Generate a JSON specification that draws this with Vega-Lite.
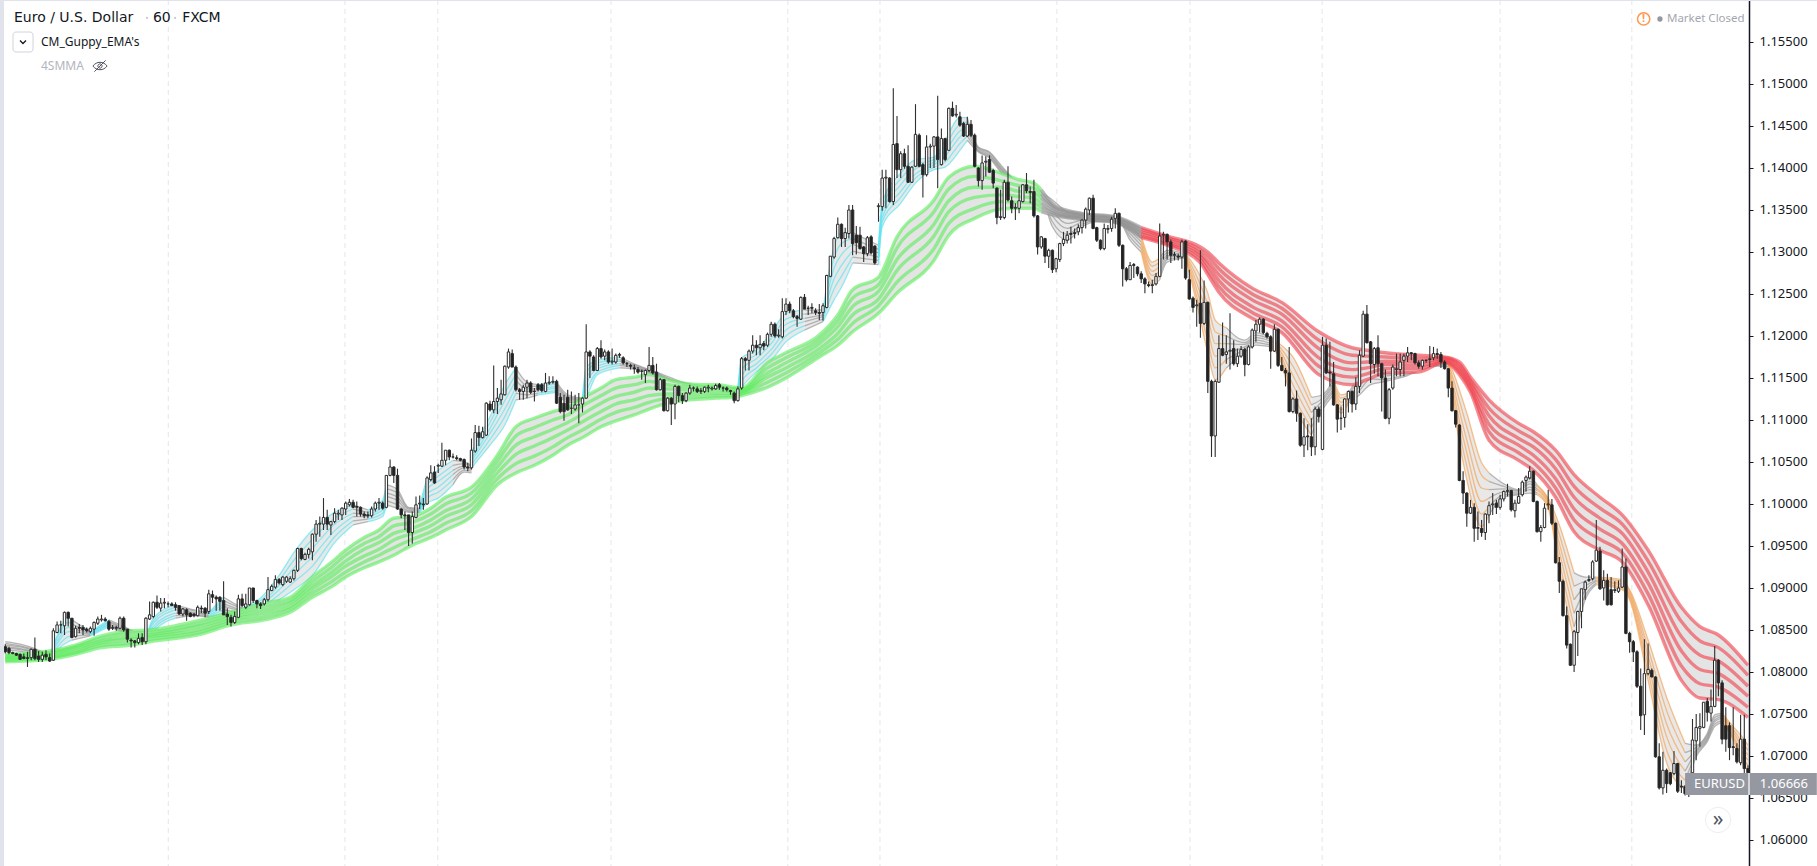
{"$schema":"https://vega.github.io/schema/vega-lite/v6.json","width":1749,"height":866,"autosize":"none","padding":{"left":0,"top":0,"right":68,"bottom":0},"background":"#ffffff","config":{"view":{"stroke":null}},
"datasets":{
"days":[{"t":45.05},{"t":92.8},{"t":117.9},{"t":164.7},{"t":212.5},{"t":237.4},{"t":285.2},{"t":321.2},{"t":356.9},{"t":405},{"t":440.6}],
"long":[
{"t":1,"s":1,"ph":"green","a":1.0821,"b":1.0819,"c":1.0817,"d":1.0816,"e":1.0814,"f":1.0812},
{"t":13,"s":1,"ph":"green","a":1.0825,"b":1.0823,"c":1.0821,"d":1.0819,"e":1.0817,"f":1.0815},
{"t":20,"s":1,"ph":"green","a":1.0832,"b":1.0830,"c":1.0828,"d":1.0825,"e":1.0823,"f":1.0821},
{"t":27,"s":1,"ph":"green","a":1.0843,"b":1.0840,"c":1.0837,"d":1.0835,"e":1.0832,"f":1.0829},
{"t":35,"s":1,"ph":"green","a":1.0849,"b":1.0846,"c":1.0842,"d":1.0839,"e":1.0835,"f":1.0832},
{"t":40,"s":1,"ph":"green","a":1.0850,"b":1.0847,"c":1.0844,"d":1.0842,"e":1.0839,"f":1.0836},
{"t":54,"s":1,"ph":"green","a":1.0862,"b":1.0858,"c":1.0855,"d":1.0851,"e":1.0848,"f":1.0845},
{"t":62,"s":1,"ph":"green","a":1.0871,"b":1.0868,"c":1.0865,"d":1.0862,"e":1.0859,"f":1.0856},
{"t":71,"s":1,"ph":"green","a":1.0882,"b":1.0878,"c":1.0874,"d":1.0870,"e":1.0866,"f":1.0862},
{"t":78,"s":1,"ph":"green","a":1.0889,"b":1.0885,"c":1.0882,"d":1.0878,"e":1.0875,"f":1.0871},
{"t":84,"s":1,"ph":"green","a":1.0913,"b":1.0908,"c":1.0903,"d":1.0899,"e":1.0894,"f":1.0889},
{"t":89,"s":1,"ph":"green","a":1.0930,"b":1.0924,"c":1.0918,"d":1.0913,"e":1.0907,"f":1.0901},
{"t":93,"s":1,"ph":"green","a":1.0945,"b":1.0939,"c":1.0932,"d":1.0926,"e":1.0919,"f":1.0913},
{"t":98,"s":1,"ph":"green","a":1.0960,"b":1.0953,"c":1.0946,"d":1.0938,"e":1.0931,"f":1.0924},
{"t":102,"s":1,"ph":"green","a":1.0969,"b":1.0961,"c":1.0954,"d":1.0946,"e":1.0939,"f":1.0931},
{"t":106,"s":1,"ph":"green","a":1.0983,"b":1.0974,"c":1.0965,"d":1.0957,"e":1.0948,"f":1.0939},
{"t":111,"s":1,"ph":"green","a":1.0985,"b":1.0978,"c":1.0971,"d":1.0965,"e":1.0958,"f":1.0951},
{"t":116,"s":1,"ph":"green","a":1.0995,"b":1.0988,"c":1.0981,"d":1.0974,"e":1.0967,"f":1.0960},
{"t":120,"s":1,"ph":"green","a":1.1008,"b":1.1000,"c":1.0992,"d":1.0985,"e":1.0977,"f":1.0969},
{"t":127,"s":1,"ph":"green","a":1.1020,"b":1.1013,"c":1.1006,"d":1.0999,"e":1.0992,"f":1.0985},
{"t":134,"s":1,"ph":"green","a":1.1058,"b":1.1051,"c":1.1044,"d":1.1037,"e":1.1030,"f":1.1023},
{"t":139,"s":1,"ph":"green","a":1.1092,"b":1.1081,"c":1.1070,"d":1.1059,"e":1.1048,"f":1.1037},
{"t":144,"s":1,"ph":"green","a":1.1102,"b":1.1091,"c":1.1080,"d":1.1069,"e":1.1057,"f":1.1046},
{"t":149,"s":1,"ph":"green","a":1.1110,"b":1.1100,"c":1.1089,"d":1.1079,"e":1.1068,"f":1.1058},
{"t":153,"s":1,"ph":"green","a":1.1115,"b":1.1106,"c":1.1097,"d":1.1088,"e":1.1079,"f":1.1070},
{"t":157,"s":1,"ph":"green","a":1.1126,"b":1.1117,"c":1.1107,"d":1.1098,"e":1.1088,"f":1.1079},
{"t":162,"s":1,"ph":"green","a":1.1138,"b":1.1129,"c":1.1120,"d":1.1110,"e":1.1101,"f":1.1092},
{"t":166,"s":1,"ph":"green","a":1.1148,"b":1.1138,"c":1.1128,"d":1.1119,"e":1.1109,"f":1.1099},
{"t":171,"s":1,"ph":"green","a":1.1151,"b":1.1142,"c":1.1133,"d":1.1124,"e":1.1115,"f":1.1106},
{"t":175,"s":1,"ph":"green","a":1.1154,"b":1.1146,"c":1.1138,"d":1.1129,"e":1.1121,"f":1.1113},
{"t":180,"s":1,"ph":"green","a":1.1148,"b":1.1142,"c":1.1137,"d":1.1131,"e":1.1126,"f":1.1120},
{"t":184,"s":1,"ph":"green","a":1.1144,"b":1.1140,"c":1.1136,"d":1.1131,"e":1.1127,"f":1.1123},
{"t":189,"s":1,"ph":"green","a":1.1142,"b":1.1139,"c":1.1135,"d":1.1132,"e":1.1128,"f":1.1125},
{"t":193,"s":1,"ph":"green","a":1.1142,"b":1.1139,"c":1.1136,"d":1.1132,"e":1.1129,"f":1.1126},
{"t":198,"s":1,"ph":"green","a":1.1139,"b":1.1137,"c":1.1134,"d":1.1132,"e":1.1129,"f":1.1127},
{"t":200,"s":1,"ph":"green","a":1.1138,"b":1.1136,"c":1.1134,"d":1.1133,"e":1.1131,"f":1.1129},
{"t":207,"s":1,"ph":"green","a":1.1168,"b":1.1162,"c":1.1156,"d":1.1151,"e":1.1145,"f":1.1139},
{"t":212,"s":1,"ph":"green","a":1.1180,"b":1.1174,"c":1.1168,"d":1.1162,"e":1.1156,"f":1.1150},
{"t":221,"s":1,"ph":"green","a":1.1201,"b":1.1196,"c":1.1191,"d":1.1185,"e":1.1180,"f":1.1175},
{"t":226,"s":1,"ph":"green","a":1.1225,"b":1.1218,"c":1.1211,"d":1.1203,"e":1.1196,"f":1.1189},
{"t":230,"s":1,"ph":"green","a":1.1255,"b":1.1245,"c":1.1235,"d":1.1225,"e":1.1215,"f":1.1205},
{"t":237,"s":1,"ph":"green","a":1.1270,"b":1.1261,"c":1.1253,"d":1.1244,"e":1.1236,"f":1.1227},
{"t":242,"s":1,"ph":"green","a":1.1318,"b":1.1305,"c":1.1291,"d":1.1278,"e":1.1264,"f":1.1251},
{"t":252,"s":1,"ph":"green","a":1.1362,"b":1.1348,"c":1.1333,"d":1.1319,"e":1.1304,"f":1.1290},
{"t":256,"s":1,"ph":"green","a":1.1389,"b":1.1375,"c":1.1361,"d":1.1348,"e":1.1334,"f":1.1320},
{"t":263,"s":1,"ph":"green","a":1.1402,"b":1.1390,"c":1.1377,"d":1.1365,"e":1.1352,"f":1.1340},
{"t":270,"s":1,"ph":"green","a":1.1394,"b":1.1385,"c":1.1377,"d":1.1368,"e":1.1360,"f":1.1351},
{"t":275,"s":1,"ph":"green","a":1.1386,"b":1.1379,"c":1.1372,"d":1.1366,"e":1.1359,"f":1.1352},
{"t":279,"s":1,"ph":"green","a":1.1382,"b":1.1376,"c":1.1370,"d":1.1364,"e":1.1358,"f":1.1352},
{"t":281,"s":1,"ph":"green","a":1.1374,"b":1.1369,"c":1.1364,"d":1.1358,"e":1.1353,"f":1.1348},
{"t":281,"s":2,"ph":"gray","a":1.1374,"b":1.1369,"c":1.1364,"d":1.1358,"e":1.1353,"f":1.1348},
{"t":285,"s":2,"ph":"gray","a":1.1354,"b":1.1352,"c":1.1350,"d":1.1347,"e":1.1345,"f":1.1343},
{"t":292,"s":2,"ph":"gray","a":1.1346,"b":1.1345,"c":1.1343,"d":1.1342,"e":1.1340,"f":1.1339},
{"t":301,"s":2,"ph":"gray","a":1.1342,"b":1.1341,"c":1.1339,"d":1.1338,"e":1.1336,"f":1.1335},
{"t":308,"s":2,"ph":"gray","a":1.1329,"b":1.1327,"c":1.1324,"d":1.1322,"e":1.1319,"f":1.1317},
{"t":308,"s":3,"ph":"red","a":1.1329,"b":1.1327,"c":1.1324,"d":1.1322,"e":1.1319,"f":1.1317},
{"t":315,"s":3,"ph":"red","a":1.1319,"b":1.1317,"c":1.1315,"d":1.1312,"e":1.1310,"f":1.1308},
{"t":324,"s":3,"ph":"red","a":1.1306,"b":1.1302,"c":1.1298,"d":1.1295,"e":1.1291,"f":1.1287},
{"t":326,"s":3,"ph":"red","a":1.1300,"b":1.1295,"c":1.1289,"d":1.1284,"e":1.1278,"f":1.1273},
{"t":329,"s":3,"ph":"red","a":1.1287,"b":1.1280,"c":1.1273,"d":1.1266,"e":1.1259,"f":1.1252},
{"t":338,"s":3,"ph":"red","a":1.1257,"b":1.1250,"c":1.1243,"d":1.1235,"e":1.1228,"f":1.1221},
{"t":346,"s":3,"ph":"red","a":1.1240,"b":1.1233,"c":1.1226,"d":1.1218,"e":1.1211,"f":1.1204},
{"t":356,"s":3,"ph":"red","a":1.1205,"b":1.1195,"c":1.1185,"d":1.1174,"e":1.1164,"f":1.1154},
{"t":365,"s":3,"ph":"red","a":1.1186,"b":1.1177,"c":1.1168,"d":1.1160,"e":1.1151,"f":1.1142},
{"t":369,"s":3,"ph":"red","a":1.1183,"b":1.1176,"c":1.1169,"d":1.1162,"e":1.1155,"f":1.1148},
{"t":374,"s":3,"ph":"red","a":1.1180,"b":1.1175,"c":1.1170,"d":1.1166,"e":1.1161,"f":1.1156},
{"t":383,"s":3,"ph":"red","a":1.1177,"b":1.1173,"c":1.1169,"d":1.1165,"e":1.1161,"f":1.1157},
{"t":390,"s":3,"ph":"red","a":1.1175,"b":1.1174,"c":1.1173,"d":1.1171,"e":1.1170,"f":1.1169},
{"t":394,"s":3,"ph":"red","a":1.1169,"b":1.1166,"c":1.1163,"d":1.1160,"e":1.1157,"f":1.1154},
{"t":397,"s":3,"ph":"red","a":1.1151,"b":1.1147,"c":1.1144,"d":1.1140,"e":1.1137,"f":1.1133},
{"t":402,"s":3,"ph":"red","a":1.1124,"b":1.1114,"c":1.1105,"d":1.1095,"e":1.1086,"f":1.1076},
{"t":410,"s":3,"ph":"red","a":1.1096,"b":1.1087,"c":1.1078,"d":1.1070,"e":1.1061,"f":1.1052},
{"t":414,"s":3,"ph":"red","a":1.1086,"b":1.1077,"c":1.1068,"d":1.1058,"e":1.1049,"f":1.1040},
{"t":420,"s":3,"ph":"red","a":1.1064,"b":1.1053,"c":1.1042,"d":1.1030,"e":1.1019,"f":1.1008},
{"t":425,"s":3,"ph":"red","a":1.1035,"b":1.1021,"c":1.1008,"d":1.0994,"e":1.0981,"f":1.0967},
{"t":432,"s":3,"ph":"red","a":1.1008,"b":1.0995,"c":1.0983,"d":1.0970,"e":1.0958,"f":1.0945},
{"t":438,"s":3,"ph":"red","a":1.0987,"b":1.0976,"c":1.0965,"d":1.0953,"e":1.0942,"f":1.0931},
{"t":445,"s":3,"ph":"red","a":1.0945,"b":1.0932,"c":1.0919,"d":1.0906,"e":1.0893,"f":1.0880},
{"t":454,"s":3,"ph":"red","a":1.0877,"b":1.0860,"c":1.0842,"d":1.0825,"e":1.0807,"f":1.0790},
{"t":459,"s":3,"ph":"red","a":1.0854,"b":1.0837,"c":1.0820,"d":1.0803,"e":1.0786,"f":1.0769},
{"t":464,"s":3,"ph":"red","a":1.0844,"b":1.0829,"c":1.0813,"d":1.0798,"e":1.0782,"f":1.0767},
{"t":472,"s":3,"ph":"red","a":1.0808,"b":1.0796,"c":1.0783,"d":1.0771,"e":1.0758,"f":1.0746}
],
"short":[
{"t":1,"s":1,"ph":"gray","a":1.0836,"b":1.0834,"c":1.0832,"d":1.0830,"e":1.0828,"f":1.0826},
{"t":6,"s":1,"ph":"gray","a":1.0832,"b":1.0830,"c":1.0829,"d":1.0827,"e":1.0826,"f":1.0824},
{"t":11,"s":1,"ph":"gray","a":1.0824,"b":1.0823,"c":1.0822,"d":1.0822,"e":1.0821,"f":1.0820},
{"t":13,"s":1,"ph":"gray","a":1.0819,"b":1.0818,"c":1.0817,"d":1.0816,"e":1.0815,"f":1.0814},
{"t":13,"s":2,"ph":"cyan","a":1.0819,"b":1.0818,"c":1.0817,"d":1.0816,"e":1.0815,"f":1.0814},
{"t":15,"s":2,"ph":"cyan","a":1.0843,"b":1.0840,"c":1.0836,"d":1.0833,"e":1.0829,"f":1.0826},
{"t":18,"s":2,"ph":"cyan","a":1.0865,"b":1.0859,"c":1.0853,"d":1.0848,"e":1.0842,"f":1.0836},
{"t":19,"s":2,"ph":"cyan","a":1.0862,"b":1.0857,"c":1.0852,"d":1.0848,"e":1.0843,"f":1.0838},
{"t":19,"s":3,"ph":"gray","a":1.0862,"b":1.0857,"c":1.0852,"d":1.0848,"e":1.0843,"f":1.0838},
{"t":24,"s":3,"ph":"gray","a":1.0848,"b":1.0847,"c":1.0846,"d":1.0845,"e":1.0844,"f":1.0843},
{"t":24,"s":4,"ph":"cyan","a":1.0848,"b":1.0847,"c":1.0846,"d":1.0845,"e":1.0844,"f":1.0843},
{"t":29,"s":4,"ph":"cyan","a":1.0862,"b":1.0860,"c":1.0859,"d":1.0857,"e":1.0856,"f":1.0854},
{"t":29,"s":5,"ph":"gray","a":1.0862,"b":1.0860,"c":1.0859,"d":1.0857,"e":1.0856,"f":1.0854},
{"t":34,"s":5,"ph":"gray","a":1.0852,"b":1.0851,"c":1.0849,"d":1.0848,"e":1.0846,"f":1.0845},
{"t":39,"s":5,"ph":"gray","a":1.0840,"b":1.0839,"c":1.0838,"d":1.0838,"e":1.0837,"f":1.0836},
{"t":39,"s":6,"ph":"cyan","a":1.0840,"b":1.0839,"c":1.0838,"d":1.0838,"e":1.0837,"f":1.0836},
{"t":41,"s":6,"ph":"cyan","a":1.0864,"b":1.0861,"c":1.0858,"d":1.0854,"e":1.0851,"f":1.0848},
{"t":47,"s":6,"ph":"cyan","a":1.0880,"b":1.0877,"c":1.0874,"d":1.0870,"e":1.0867,"f":1.0864},
{"t":47,"s":7,"ph":"gray","a":1.0880,"b":1.0877,"c":1.0874,"d":1.0870,"e":1.0867,"f":1.0864},
{"t":52,"s":7,"ph":"gray","a":1.0874,"b":1.0873,"c":1.0871,"d":1.0870,"e":1.0868,"f":1.0867},
{"t":56,"s":7,"ph":"gray","a":1.0871,"b":1.0870,"c":1.0869,"d":1.0867,"e":1.0866,"f":1.0865},
{"t":56,"s":8,"ph":"cyan","a":1.0871,"b":1.0870,"c":1.0869,"d":1.0867,"e":1.0866,"f":1.0865},
{"t":60,"s":8,"ph":"cyan","a":1.0889,"b":1.0885,"c":1.0881,"d":1.0878,"e":1.0874,"f":1.0870},
{"t":60,"s":9,"ph":"gray","a":1.0889,"b":1.0885,"c":1.0881,"d":1.0878,"e":1.0874,"f":1.0870},
{"t":65,"s":9,"ph":"gray","a":1.0876,"b":1.0875,"c":1.0873,"d":1.0872,"e":1.0870,"f":1.0869},
{"t":65,"s":10,"ph":"cyan","a":1.0876,"b":1.0875,"c":1.0873,"d":1.0872,"e":1.0870,"f":1.0869},
{"t":70,"s":10,"ph":"cyan","a":1.0888,"b":1.0885,"c":1.0882,"d":1.0880,"e":1.0877,"f":1.0874},
{"t":75,"s":10,"ph":"cyan","a":1.0915,"b":1.0909,"c":1.0903,"d":1.0898,"e":1.0892,"f":1.0886},
{"t":79,"s":10,"ph":"cyan","a":1.0942,"b":1.0933,"c":1.0924,"d":1.0916,"e":1.0907,"f":1.0898},
{"t":84,"s":10,"ph":"cyan","a":1.0969,"b":1.0958,"c":1.0947,"d":1.0937,"e":1.0926,"f":1.0915},
{"t":90,"s":10,"ph":"cyan","a":1.0990,"b":1.0983,"c":1.0976,"d":1.0968,"e":1.0961,"f":1.0954},
{"t":95,"s":10,"ph":"cyan","a":1.0999,"b":1.0994,"c":1.0989,"d":1.0985,"e":1.0980,"f":1.0975},
{"t":95,"s":11,"ph":"gray","a":1.0999,"b":1.0994,"c":1.0989,"d":1.0985,"e":1.0980,"f":1.0975},
{"t":99,"s":11,"ph":"gray","a":1.0993,"b":1.0990,"c":1.0987,"d":1.0985,"e":1.0982,"f":1.0979},
{"t":99,"s":12,"ph":"cyan","a":1.0993,"b":1.0990,"c":1.0987,"d":1.0985,"e":1.0982,"f":1.0979},
{"t":103,"s":12,"ph":"cyan","a":1.1005,"b":1.1001,"c":1.0997,"d":1.0993,"e":1.0989,"f":1.0985},
{"t":104,"s":12,"ph":"cyan","a":1.1023,"b":1.1018,"c":1.1013,"d":1.1009,"e":1.1004,"f":1.0999},
{"t":104,"s":13,"ph":"gray","a":1.1023,"b":1.1018,"c":1.1013,"d":1.1009,"e":1.1004,"f":1.0999},
{"t":107,"s":13,"ph":"gray","a":1.1017,"b":1.1013,"c":1.1008,"d":1.1004,"e":1.0999,"f":1.0995},
{"t":110,"s":13,"ph":"gray","a":1.0996,"b":1.0995,"c":1.0994,"d":1.0992,"e":1.0991,"f":1.0990},
{"t":113,"s":13,"ph":"gray","a":1.0995,"b":1.0994,"c":1.0993,"d":1.0992,"e":1.0991,"f":1.0990},
{"t":113,"s":14,"ph":"cyan","a":1.0995,"b":1.0994,"c":1.0993,"d":1.0992,"e":1.0991,"f":1.0990},
{"t":115,"s":14,"ph":"cyan","a":1.1029,"b":1.1023,"c":1.1018,"d":1.1012,"e":1.1007,"f":1.1001},
{"t":118,"s":14,"ph":"cyan","a":1.1040,"b":1.1033,"c":1.1027,"d":1.1020,"e":1.1014,"f":1.1007},
{"t":122,"s":14,"ph":"cyan","a":1.1052,"b":1.1046,"c":1.1040,"d":1.1035,"e":1.1029,"f":1.1023},
{"t":122,"s":15,"ph":"gray","a":1.1052,"b":1.1046,"c":1.1040,"d":1.1035,"e":1.1029,"f":1.1023},
{"t":125,"s":15,"ph":"gray","a":1.1050,"b":1.1048,"c":1.1045,"d":1.1043,"e":1.1040,"f":1.1038},
{"t":127,"s":15,"ph":"gray","a":1.1046,"b":1.1044,"c":1.1042,"d":1.1041,"e":1.1039,"f":1.1037},
{"t":127,"s":16,"ph":"cyan","a":1.1062,"b":1.1058,"c":1.1054,"d":1.1051,"e":1.1047,"f":1.1043},
{"t":132,"s":16,"ph":"cyan","a":1.1104,"b":1.1097,"c":1.1090,"d":1.1084,"e":1.1077,"f":1.1070},
{"t":136,"s":16,"ph":"cyan","a":1.1142,"b":1.1132,"c":1.1123,"d":1.1113,"e":1.1104,"f":1.1094},
{"t":139,"s":16,"ph":"cyan","a":1.1162,"b":1.1154,"c":1.1147,"d":1.1139,"e":1.1132,"f":1.1124},
{"t":139,"s":17,"ph":"gray","a":1.1162,"b":1.1154,"c":1.1147,"d":1.1139,"e":1.1132,"f":1.1124},
{"t":142,"s":17,"ph":"gray","a":1.1145,"b":1.1141,"c":1.1137,"d":1.1134,"e":1.1130,"f":1.1126},
{"t":145,"s":17,"ph":"gray","a":1.1142,"b":1.1140,"c":1.1137,"d":1.1135,"e":1.1132,"f":1.1130},
{"t":145,"s":18,"ph":"cyan","a":1.1142,"b":1.1140,"c":1.1137,"d":1.1135,"e":1.1132,"f":1.1130},
{"t":150,"s":18,"ph":"cyan","a":1.1145,"b":1.1143,"c":1.1140,"d":1.1138,"e":1.1135,"f":1.1133},
{"t":150,"s":19,"ph":"gray","a":1.1145,"b":1.1143,"c":1.1140,"d":1.1138,"e":1.1135,"f":1.1133},
{"t":153,"s":19,"ph":"gray","a":1.1130,"b":1.1128,"c":1.1127,"d":1.1125,"e":1.1123,"f":1.1121},
{"t":157,"s":19,"ph":"gray","a":1.1126,"b":1.1125,"c":1.1124,"d":1.1123,"e":1.1122,"f":1.1121},
{"t":157,"s":20,"ph":"cyan","a":1.1126,"b":1.1125,"c":1.1124,"d":1.1123,"e":1.1122,"f":1.1121},
{"t":158,"s":20,"ph":"cyan","a":1.1163,"b":1.1156,"c":1.1149,"d":1.1141,"e":1.1134,"f":1.1127},
{"t":161,"s":20,"ph":"cyan","a":1.1171,"b":1.1168,"c":1.1164,"d":1.1161,"e":1.1157,"f":1.1154},
{"t":167,"s":20,"ph":"cyan","a":1.1175,"b":1.1172,"c":1.1170,"d":1.1167,"e":1.1165,"f":1.1162},
{"t":167,"s":21,"ph":"gray","a":1.1175,"b":1.1172,"c":1.1170,"d":1.1167,"e":1.1165,"f":1.1162},
{"t":172,"s":21,"ph":"gray","a":1.1165,"b":1.1164,"c":1.1163,"d":1.1162,"e":1.1161,"f":1.1160},
{"t":177,"s":21,"ph":"gray","a":1.1157,"b":1.1156,"c":1.1155,"d":1.1154,"e":1.1153,"f":1.1152},
{"t":181,"s":21,"ph":"gray","a":1.1150,"b":1.1148,"c":1.1147,"d":1.1145,"e":1.1144,"f":1.1142},
{"t":186,"s":21,"ph":"gray","a":1.1143,"b":1.1142,"c":1.1140,"d":1.1139,"e":1.1137,"f":1.1136},
{"t":199,"s":21,"ph":"gray","a":1.1138,"b":1.1137,"c":1.1136,"d":1.1135,"e":1.1134,"f":1.1133},
{"t":199,"s":22,"ph":"cyan","a":1.1138,"b":1.1137,"c":1.1136,"d":1.1135,"e":1.1134,"f":1.1133},
{"t":200,"s":22,"ph":"cyan","a":1.1174,"b":1.1167,"c":1.1160,"d":1.1153,"e":1.1146,"f":1.1139},
{"t":204,"s":22,"ph":"cyan","a":1.1183,"b":1.1178,"c":1.1173,"d":1.1167,"e":1.1162,"f":1.1157},
{"t":208,"s":22,"ph":"cyan","a":1.1204,"b":1.1197,"c":1.1191,"d":1.1184,"e":1.1178,"f":1.1171},
{"t":212,"s":22,"ph":"cyan","a":1.1227,"b":1.1220,"c":1.1214,"d":1.1207,"e":1.1200,"f":1.1193},
{"t":217,"s":22,"ph":"cyan","a":1.1231,"b":1.1226,"c":1.1221,"d":1.1217,"e":1.1212,"f":1.1207},
{"t":217,"s":23,"ph":"gray","a":1.1231,"b":1.1226,"c":1.1221,"d":1.1217,"e":1.1212,"f":1.1207},
{"t":222,"s":23,"ph":"gray","a":1.1231,"b":1.1228,"c":1.1225,"d":1.1223,"e":1.1220,"f":1.1217},
{"t":222,"s":24,"ph":"cyan","a":1.1231,"b":1.1228,"c":1.1225,"d":1.1223,"e":1.1220,"f":1.1217},
{"t":225,"s":24,"ph":"cyan","a":1.1306,"b":1.1293,"c":1.1281,"d":1.1268,"e":1.1256,"f":1.1243},
{"t":227,"s":24,"ph":"cyan","a":1.1323,"b":1.1310,"c":1.1297,"d":1.1284,"e":1.1271,"f":1.1258},
{"t":230,"s":24,"ph":"cyan","a":1.1323,"b":1.1316,"c":1.1309,"d":1.1301,"e":1.1294,"f":1.1287},
{"t":230,"s":25,"ph":"gray","a":1.1323,"b":1.1316,"c":1.1309,"d":1.1301,"e":1.1294,"f":1.1287},
{"t":237,"s":25,"ph":"gray","a":1.1308,"b":1.1303,"c":1.1299,"d":1.1294,"e":1.1290,"f":1.1285},
{"t":237,"s":26,"ph":"cyan","a":1.1308,"b":1.1303,"c":1.1299,"d":1.1294,"e":1.1290,"f":1.1285},
{"t":238,"s":26,"ph":"cyan","a":1.1358,"b":1.1352,"c":1.1347,"d":1.1341,"e":1.1336,"f":1.1330},
{"t":243,"s":26,"ph":"cyan","a":1.1394,"b":1.1387,"c":1.1380,"d":1.1372,"e":1.1365,"f":1.1358},
{"t":247,"s":26,"ph":"cyan","a":1.1410,"b":1.1404,"c":1.1399,"d":1.1393,"e":1.1388,"f":1.1382},
{"t":252,"s":26,"ph":"cyan","a":1.1413,"b":1.1410,"c":1.1407,"d":1.1404,"e":1.1401,"f":1.1398},
{"t":255,"s":26,"ph":"cyan","a":1.1433,"b":1.1427,"c":1.1420,"d":1.1414,"e":1.1407,"f":1.1401},
{"t":259,"s":26,"ph":"cyan","a":1.1460,"b":1.1452,"c":1.1444,"d":1.1437,"e":1.1429,"f":1.1421},
{"t":261,"s":26,"ph":"cyan","a":1.1460,"b":1.1455,"c":1.1449,"d":1.1444,"e":1.1438,"f":1.1433},
{"t":261,"s":27,"ph":"gray","a":1.1460,"b":1.1455,"c":1.1449,"d":1.1444,"e":1.1438,"f":1.1433},
{"t":264,"s":27,"ph":"gray","a":1.1425,"b":1.1424,"c":1.1423,"d":1.1421,"e":1.1420,"f":1.1419},
{"t":267,"s":27,"ph":"gray","a":1.1419,"b":1.1418,"c":1.1416,"d":1.1415,"e":1.1413,"f":1.1412},
{"t":270,"s":27,"ph":"gray","a":1.1404,"b":1.1402,"c":1.1400,"d":1.1399,"e":1.1397,"f":1.1395},
{"t":273,"s":27,"ph":"gray","a":1.1389,"b":1.1388,"c":1.1387,"d":1.1385,"e":1.1384,"f":1.1383},
{"t":277,"s":27,"ph":"gray","a":1.1377,"b":1.1376,"c":1.1375,"d":1.1373,"e":1.1372,"f":1.1371},
{"t":281,"s":27,"ph":"gray","a":1.1371,"b":1.1370,"c":1.1369,"d":1.1367,"e":1.1366,"f":1.1365},
{"t":284,"s":27,"ph":"gray","a":1.1362,"b":1.1356,"c":1.1349,"d":1.1343,"e":1.1336,"f":1.1330},
{"t":288,"s":27,"ph":"gray","a":1.1348,"b":1.1341,"c":1.1334,"d":1.1328,"e":1.1321,"f":1.1314},
{"t":292,"s":27,"ph":"gray","a":1.1344,"b":1.1341,"c":1.1338,"d":1.1336,"e":1.1333,"f":1.1330},
{"t":296,"s":27,"ph":"gray","a":1.1343,"b":1.1342,"c":1.1340,"d":1.1339,"e":1.1337,"f":1.1336},
{"t":302,"s":27,"ph":"gray","a":1.1340,"b":1.1339,"c":1.1338,"d":1.1338,"e":1.1337,"f":1.1336},
{"t":305,"s":27,"ph":"gray","a":1.1333,"b":1.1329,"c":1.1325,"d":1.1322,"e":1.1318,"f":1.1314},
{"t":308,"s":27,"ph":"gray","a":1.1320,"b":1.1316,"c":1.1312,"d":1.1308,"e":1.1304,"f":1.1300},
{"t":308,"s":28,"ph":"orange","a":1.1320,"b":1.1316,"c":1.1312,"d":1.1308,"e":1.1304,"f":1.1300},
{"t":311,"s":28,"ph":"orange","a":1.1288,"b":1.1283,"c":1.1277,"d":1.1272,"e":1.1266,"f":1.1261},
{"t":313,"s":28,"ph":"orange","a":1.1293,"b":1.1288,"c":1.1283,"d":1.1277,"e":1.1272,"f":1.1267},
{"t":313,"s":29,"ph":"gray","a":1.1293,"b":1.1288,"c":1.1283,"d":1.1277,"e":1.1272,"f":1.1267},
{"t":315,"s":29,"ph":"gray","a":1.1302,"b":1.1299,"c":1.1296,"d":1.1294,"e":1.1291,"f":1.1288},
{"t":320,"s":29,"ph":"gray","a":1.1298,"b":1.1297,"c":1.1296,"d":1.1295,"e":1.1294,"f":1.1293},
{"t":320,"s":30,"ph":"orange","a":1.1298,"b":1.1297,"c":1.1296,"d":1.1295,"e":1.1294,"f":1.1293},
{"t":323,"s":30,"ph":"orange","a":1.1279,"b":1.1271,"c":1.1263,"d":1.1255,"e":1.1247,"f":1.1239},
{"t":326,"s":30,"ph":"orange","a":1.1251,"b":1.1237,"c":1.1223,"d":1.1208,"e":1.1194,"f":1.1180},
{"t":328,"s":30,"ph":"orange","a":1.1219,"b":1.1205,"c":1.1191,"d":1.1176,"e":1.1162,"f":1.1148},
{"t":331,"s":30,"ph":"orange","a":1.1210,"b":1.1200,"c":1.1191,"d":1.1181,"e":1.1172,"f":1.1162},
{"t":331,"s":31,"ph":"gray","a":1.1210,"b":1.1200,"c":1.1191,"d":1.1181,"e":1.1172,"f":1.1162},
{"t":336,"s":31,"ph":"gray","a":1.1195,"b":1.1192,"c":1.1190,"d":1.1187,"e":1.1184,"f":1.1181},
{"t":339,"s":31,"ph":"gray","a":1.1204,"b":1.1201,"c":1.1198,"d":1.1195,"e":1.1192,"f":1.1189},
{"t":343,"s":31,"ph":"gray","a":1.1198,"b":1.1196,"c":1.1194,"d":1.1191,"e":1.1189,"f":1.1187},
{"t":343,"s":32,"ph":"orange","a":1.1198,"b":1.1196,"c":1.1194,"d":1.1191,"e":1.1189,"f":1.1187},
{"t":345,"s":32,"ph":"orange","a":1.1192,"b":1.1189,"c":1.1186,"d":1.1183,"e":1.1180,"f":1.1177},
{"t":349,"s":32,"ph":"orange","a":1.1175,"b":1.1164,"c":1.1153,"d":1.1142,"e":1.1131,"f":1.1120},
{"t":354,"s":32,"ph":"orange","a":1.1127,"b":1.1118,"c":1.1109,"d":1.1100,"e":1.1091,"f":1.1082},
{"t":354,"s":33,"ph":"gray","a":1.1127,"b":1.1118,"c":1.1109,"d":1.1100,"e":1.1091,"f":1.1082},
{"t":357,"s":33,"ph":"gray","a":1.1130,"b":1.1126,"c":1.1123,"d":1.1119,"e":1.1116,"f":1.1112},
{"t":360,"s":33,"ph":"gray","a":1.1148,"b":1.1144,"c":1.1141,"d":1.1137,"e":1.1134,"f":1.1130},
{"t":360,"s":34,"ph":"orange","a":1.1148,"b":1.1144,"c":1.1141,"d":1.1137,"e":1.1134,"f":1.1130},
{"t":362,"s":34,"ph":"orange","a":1.1130,"b":1.1126,"c":1.1121,"d":1.1117,"e":1.1112,"f":1.1108},
{"t":364,"s":34,"ph":"orange","a":1.1132,"b":1.1130,"c":1.1127,"d":1.1125,"e":1.1122,"f":1.1120},
{"t":364,"s":35,"ph":"gray","a":1.1132,"b":1.1130,"c":1.1127,"d":1.1125,"e":1.1122,"f":1.1120},
{"t":367,"s":35,"ph":"gray","a":1.1154,"b":1.1149,"c":1.1144,"d":1.1140,"e":1.1135,"f":1.1130},
{"t":370,"s":35,"ph":"gray","a":1.1177,"b":1.1170,"c":1.1163,"d":1.1156,"e":1.1149,"f":1.1142},
{"t":373,"s":35,"ph":"gray","a":1.1162,"b":1.1159,"c":1.1155,"d":1.1152,"e":1.1148,"f":1.1145},
{"t":378,"s":35,"ph":"gray","a":1.1162,"b":1.1160,"c":1.1157,"d":1.1155,"e":1.1152,"f":1.1150},
{"t":388,"s":35,"ph":"gray","a":1.1169,"b":1.1168,"c":1.1167,"d":1.1166,"e":1.1165,"f":1.1164},
{"t":391,"s":35,"ph":"gray","a":1.1169,"b":1.1168,"c":1.1167,"d":1.1166,"e":1.1164,"f":1.1163},
{"t":391,"s":36,"ph":"orange","a":1.1169,"b":1.1168,"c":1.1167,"d":1.1166,"e":1.1164,"f":1.1163},
{"t":392,"s":36,"ph":"orange","a":1.1160,"b":1.1154,"c":1.1148,"d":1.1142,"e":1.1136,"f":1.1130},
{"t":396,"s":36,"ph":"orange","a":1.1108,"b":1.1092,"c":1.1076,"d":1.1061,"e":1.1045,"f":1.1029},
{"t":400,"s":36,"ph":"orange","a":1.1049,"b":1.1034,"c":1.1019,"d":1.1003,"e":1.0988,"f":1.0973},
{"t":402,"s":36,"ph":"orange","a":1.1037,"b":1.1027,"c":1.1017,"d":1.1007,"e":1.0997,"f":1.0987},
{"t":402,"s":37,"ph":"gray","a":1.1037,"b":1.1027,"c":1.1017,"d":1.1007,"e":1.0997,"f":1.0987},
{"t":406,"s":37,"ph":"gray","a":1.1024,"b":1.1021,"c":1.1018,"d":1.1014,"e":1.1011,"f":1.1008},
{"t":410,"s":37,"ph":"gray","a":1.1017,"b":1.1016,"c":1.1015,"d":1.1013,"e":1.1012,"f":1.1011},
{"t":413,"s":37,"ph":"gray","a":1.1031,"b":1.1027,"c":1.1024,"d":1.1020,"e":1.1017,"f":1.1013},
{"t":415,"s":37,"ph":"gray","a":1.1023,"b":1.1021,"c":1.1018,"d":1.1016,"e":1.1013,"f":1.1011},
{"t":415,"s":38,"ph":"orange","a":1.1023,"b":1.1021,"c":1.1018,"d":1.1016,"e":1.1013,"f":1.1011},
{"t":418,"s":38,"ph":"orange","a":1.1007,"b":1.1005,"c":1.1002,"d":1.1000,"e":1.0997,"f":1.0995},
{"t":421,"s":38,"ph":"orange","a":1.0975,"b":1.0964,"c":1.0953,"d":1.0943,"e":1.0932,"f":1.0921},
{"t":425,"s":38,"ph":"orange","a":1.0918,"b":1.0902,"c":1.0886,"d":1.0870,"e":1.0854,"f":1.0838},
{"t":425,"s":39,"ph":"gray","a":1.0918,"b":1.0902,"c":1.0886,"d":1.0870,"e":1.0854,"f":1.0838},
{"t":428,"s":39,"ph":"gray","a":1.0913,"b":1.0908,"c":1.0902,"d":1.0897,"e":1.0891,"f":1.0886},
{"t":431,"s":39,"ph":"gray","a":1.0913,"b":1.0911,"c":1.0909,"d":1.0908,"e":1.0906,"f":1.0904},
{"t":431,"s":40,"ph":"orange","a":1.0913,"b":1.0911,"c":1.0909,"d":1.0908,"e":1.0906,"f":1.0904},
{"t":438,"s":40,"ph":"orange","a":1.0910,"b":1.0908,"c":1.0905,"d":1.0903,"e":1.0900,"f":1.0898},
{"t":440,"s":40,"ph":"orange","a":1.0898,"b":1.0896,"c":1.0893,"d":1.0891,"e":1.0888,"f":1.0886},
{"t":445,"s":40,"ph":"orange","a":1.0838,"b":1.0828,"c":1.0819,"d":1.0809,"e":1.0800,"f":1.0790},
{"t":450,"s":40,"ph":"orange","a":1.0770,"b":1.0754,"c":1.0738,"d":1.0723,"e":1.0707,"f":1.0692},
{"t":455,"s":40,"ph":"orange","a":1.0715,"b":1.0704,"c":1.0693,"d":1.0682,"e":1.0671,"f":1.0660},
{"t":455,"s":41,"ph":"gray","a":1.0715,"b":1.0704,"c":1.0693,"d":1.0682,"e":1.0671,"f":1.0660},
{"t":458,"s":41,"ph":"gray","a":1.0713,"b":1.0710,"c":1.0707,"d":1.0705,"e":1.0702,"f":1.0699},
{"t":461,"s":41,"ph":"gray","a":1.0727,"b":1.0725,"c":1.0723,"d":1.0721,"e":1.0719,"f":1.0717},
{"t":463,"s":41,"ph":"gray","a":1.0749,"b":1.0746,"c":1.0743,"d":1.0741,"e":1.0738,"f":1.0735},
{"t":465,"s":41,"ph":"gray","a":1.0751,"b":1.0749,"c":1.0747,"d":1.0745,"e":1.0742,"f":1.0740},
{"t":465,"s":42,"ph":"orange","a":1.0751,"b":1.0749,"c":1.0747,"d":1.0745,"e":1.0742,"f":1.0740},
{"t":468,"s":42,"ph":"orange","a":1.0735,"b":1.0732,"c":1.0729,"d":1.0725,"e":1.0722,"f":1.0719},
{"t":470,"s":42,"ph":"orange","a":1.0725,"b":1.0719,"c":1.0713,"d":1.0707,"e":1.0701,"f":1.0695},
{"t":472,"s":42,"ph":"orange","a":1.0713,"b":1.0707,"c":1.0701,"d":1.0695,"e":1.0689,"f":1.0683}
],
"ohlc":[
{"t":1,"o":1.0830,"h":1.0833,"l":1.0822,"c":1.0824},{"t":2,"o":1.0828,"h":1.0830,"l":1.0821,"c":1.0823},{"t":3,"o":1.0823,"h":1.0824,"l":1.0821,"c":1.0822},{"t":4,"o":1.0822,"h":1.0823,"l":1.0819,"c":1.0820},{"t":5,"o":1.0821,"h":1.0822,"l":1.0815,"c":1.0815},
{"t":6,"o":1.0818,"h":1.0822,"l":1.0815,"c":1.0816},{"t":7,"o":1.0817,"h":1.0824,"l":1.0806,"c":1.0816},{"t":8,"o":1.0817,"h":1.0828,"l":1.0814,"c":1.0827},{"t":9,"o":1.0827,"h":1.0841,"l":1.0814,"c":1.0816},{"t":10,"o":1.0819,"h":1.0825,"l":1.0812,"c":1.0815},
{"t":11,"o":1.0815,"h":1.0824,"l":1.0812,"c":1.0820},{"t":12,"o":1.0821,"h":1.0826,"l":1.0814,"c":1.0818},{"t":13,"o":1.0817,"h":1.0822,"l":1.0812,"c":1.0813},{"t":14,"o":1.0814,"h":1.0852,"l":1.0813,"c":1.0849},{"t":15,"o":1.0847,"h":1.0860,"l":1.0846,"c":1.0856},
{"t":16,"o":1.0856,"h":1.0861,"l":1.0846,"c":1.0856},{"t":17,"o":1.0855,"h":1.0872,"l":1.0844,"c":1.0871},{"t":18,"o":1.0871,"h":1.0872,"l":1.0854,"c":1.0864},{"t":19,"o":1.0864,"h":1.0864,"l":1.0840,"c":1.0841},{"t":20,"o":1.0842,"h":1.0855,"l":1.0841,"c":1.0852},
{"t":21,"o":1.0853,"h":1.0857,"l":1.0846,"c":1.0852},{"t":22,"o":1.0853,"h":1.0856,"l":1.0844,"c":1.0850},{"t":23,"o":1.0851,"h":1.0853,"l":1.0847,"c":1.0849},{"t":24,"o":1.0848,"h":1.0854,"l":1.0846,"c":1.0852},{"t":25,"o":1.0851,"h":1.0860,"l":1.0843,"c":1.0859},
{"t":26,"o":1.0858,"h":1.0866,"l":1.0856,"c":1.0863},{"t":27,"o":1.0862,"h":1.0868,"l":1.0860,"c":1.0863},{"t":28,"o":1.0863,"h":1.0865,"l":1.0860,"c":1.0861},{"t":29,"o":1.0860,"h":1.0862,"l":1.0849,"c":1.0851},{"t":30,"o":1.0852,"h":1.0856,"l":1.0850,"c":1.0853},
{"t":31,"o":1.0852,"h":1.0855,"l":1.0849,"c":1.0853},{"t":32,"o":1.0852,"h":1.0866,"l":1.0851,"c":1.0864},{"t":33,"o":1.0864,"h":1.0866,"l":1.0848,"c":1.0850},{"t":34,"o":1.0851,"h":1.0851,"l":1.0835,"c":1.0839},{"t":35,"o":1.0838,"h":1.0840,"l":1.0829,"c":1.0837},
{"t":36,"o":1.0837,"h":1.0838,"l":1.0829,"c":1.0835},{"t":37,"o":1.0835,"h":1.0846,"l":1.0833,"c":1.0840},{"t":38,"o":1.0841,"h":1.0846,"l":1.0832,"c":1.0836},{"t":39,"o":1.0836,"h":1.0865,"l":1.0833,"c":1.0864},{"t":40,"o":1.0863,"h":1.0884,"l":1.0862,"c":1.0868},
{"t":41,"o":1.0866,"h":1.0884,"l":1.0864,"c":1.0883},{"t":42,"o":1.0883,"h":1.0891,"l":1.0875,"c":1.0877},{"t":43,"o":1.0876,"h":1.0888,"l":1.0872,"c":1.0882},{"t":44,"o":1.0882,"h":1.0888,"l":1.0876,"c":1.0883},{"t":45,"o":1.0881,"h":1.0884,"l":1.0877,"c":1.0881},
{"t":46,"o":1.0881,"h":1.0883,"l":1.0879,"c":1.0879},{"t":47,"o":1.0880,"h":1.0883,"l":1.0873,"c":1.0877},{"t":48,"o":1.0879,"h":1.0879,"l":1.0868,"c":1.0869},{"t":49,"o":1.0869,"h":1.0876,"l":1.0866,"c":1.0875},{"t":50,"o":1.0874,"h":1.0876,"l":1.0861,"c":1.0868},
{"t":51,"o":1.0870,"h":1.0871,"l":1.0865,"c":1.0866},{"t":52,"o":1.0869,"h":1.0870,"l":1.0865,"c":1.0867},{"t":53,"o":1.0867,"h":1.0879,"l":1.0866,"c":1.0877},{"t":54,"o":1.0876,"h":1.0879,"l":1.0870,"c":1.0875},{"t":55,"o":1.0876,"h":1.0877,"l":1.0865,"c":1.0870},
{"t":56,"o":1.0872,"h":1.0898,"l":1.0869,"c":1.0893},{"t":57,"o":1.0892,"h":1.0897,"l":1.0882,"c":1.0889},{"t":58,"o":1.0889,"h":1.0891,"l":1.0873,"c":1.0887},{"t":59,"o":1.0889,"h":1.0890,"l":1.0873,"c":1.0884},{"t":60,"o":1.0885,"h":1.0908,"l":1.0868,"c":1.0868},
{"t":61,"o":1.0869,"h":1.0876,"l":1.0856,"c":1.0866},{"t":62,"o":1.0865,"h":1.0868,"l":1.0854,"c":1.0859},{"t":63,"o":1.0859,"h":1.0872,"l":1.0857,"c":1.0866},{"t":64,"o":1.0865,"h":1.0892,"l":1.0864,"c":1.0887},{"t":65,"o":1.0887,"h":1.0893,"l":1.0877,"c":1.0879},
{"t":66,"o":1.0877,"h":1.0893,"l":1.0875,"c":1.0881},{"t":67,"o":1.0880,"h":1.0900,"l":1.0879,"c":1.0900},{"t":68,"o":1.0900,"h":1.0900,"l":1.0882,"c":1.0885},{"t":69,"o":1.0885,"h":1.0886,"l":1.0876,"c":1.0881},{"t":70,"o":1.0881,"h":1.0883,"l":1.0875,"c":1.0879},
{"t":71,"o":1.0881,"h":1.0888,"l":1.0879,"c":1.0886},{"t":72,"o":1.0886,"h":1.0913,"l":1.0884,"c":1.0898},{"t":73,"o":1.0897,"h":1.0904,"l":1.0896,"c":1.0902},{"t":74,"o":1.0901,"h":1.0915,"l":1.0899,"c":1.0910},{"t":75,"o":1.0910,"h":1.0912,"l":1.0904,"c":1.0906},
{"t":76,"o":1.0904,"h":1.0914,"l":1.0902,"c":1.0913},{"t":77,"o":1.0908,"h":1.0914,"l":1.0906,"c":1.0913},{"t":78,"o":1.0907,"h":1.0914,"l":1.0906,"c":1.0911},{"t":79,"o":1.0911,"h":1.0922,"l":1.0909,"c":1.0921},{"t":80,"o":1.0921,"h":1.0948,"l":1.0919,"c":1.0947},
{"t":81,"o":1.0947,"h":1.0948,"l":1.0933,"c":1.0935},{"t":82,"o":1.0934,"h":1.0942,"l":1.0933,"c":1.0940},{"t":83,"o":1.0940,"h":1.0948,"l":1.0935,"c":1.0946},{"t":84,"o":1.0943,"h":1.0965,"l":1.0933,"c":1.0964},{"t":85,"o":1.0964,"h":1.0981,"l":1.0955,"c":1.0976},
{"t":86,"o":1.0976,"h":1.0985,"l":1.0961,"c":1.0977},{"t":87,"o":1.0976,"h":1.1007,"l":1.0969,"c":1.0984},{"t":88,"o":1.0984,"h":1.0993,"l":1.0969,"c":1.0976},{"t":89,"o":1.0975,"h":1.0979,"l":1.0963,"c":1.0979},{"t":90,"o":1.0979,"h":1.0995,"l":1.0977,"c":1.0989},
{"t":91,"o":1.0988,"h":1.0993,"l":1.0981,"c":1.0989},{"t":92,"o":1.0987,"h":1.0996,"l":1.0981,"c":1.0995},{"t":93,"o":1.0994,"h":1.1003,"l":1.0987,"c":1.1001},{"t":94,"o":1.0999,"h":1.1006,"l":1.0997,"c":1.1002},{"t":95,"o":1.1002,"h":1.1005,"l":1.0995,"c":1.0996},
{"t":96,"o":1.0996,"h":1.1003,"l":1.0985,"c":1.0997},{"t":97,"o":1.0996,"h":1.0997,"l":1.0985,"c":1.0988},{"t":98,"o":1.0988,"h":1.0991,"l":1.0983,"c":1.0986},{"t":99,"o":1.0987,"h":1.0991,"l":1.0983,"c":1.0986},{"t":100,"o":1.0986,"h":1.0997,"l":1.0984,"c":1.0994},
{"t":101,"o":1.0994,"h":1.1003,"l":1.0991,"c":1.1001},{"t":102,"o":1.1001,"h":1.1007,"l":1.0993,"c":1.1002},{"t":103,"o":1.1001,"h":1.1003,"l":1.0993,"c":1.0995},{"t":104,"o":1.0996,"h":1.1034,"l":1.0995,"c":1.1034},{"t":105,"o":1.1034,"h":1.1053,"l":1.1033,"c":1.1044},
{"t":106,"o":1.1044,"h":1.1045,"l":1.1025,"c":1.1034},{"t":107,"o":1.1034,"h":1.1042,"l":1.0993,"c":1.0994},{"t":108,"o":1.0994,"h":1.0995,"l":1.0983,"c":1.0987},{"t":109,"o":1.0987,"h":1.0991,"l":1.0969,"c":1.0986},{"t":110,"o":1.0987,"h":1.0987,"l":1.0950,"c":1.0966},
{"t":111,"o":1.0966,"h":1.0991,"l":1.0953,"c":1.0985},{"t":112,"o":1.0984,"h":1.1009,"l":1.0983,"c":1.0999},{"t":113,"o":1.1000,"h":1.1010,"l":1.0994,"c":1.1001},{"t":114,"o":1.1000,"h":1.1007,"l":1.0993,"c":1.0999},{"t":115,"o":1.1000,"h":1.1033,"l":1.0999,"c":1.1031},
{"t":116,"o":1.1029,"h":1.1046,"l":1.1027,"c":1.1037},{"t":117,"o":1.1038,"h":1.1045,"l":1.1024,"c":1.1025},{"t":118,"o":1.1045,"h":1.1048,"l":1.1037,"c":1.1046},{"t":119,"o":1.1045,"h":1.1073,"l":1.1044,"c":1.1052},{"t":120,"o":1.1052,"h":1.1064,"l":1.1046,"c":1.1064},
{"t":121,"o":1.1064,"h":1.1065,"l":1.1052,"c":1.1056},{"t":122,"o":1.1056,"h":1.1060,"l":1.1054,"c":1.1056},{"t":123,"o":1.1055,"h":1.1058,"l":1.1052,"c":1.1054},{"t":124,"o":1.1054,"h":1.1055,"l":1.1051,"c":1.1052},{"t":125,"o":1.1053,"h":1.1054,"l":1.1041,"c":1.1044},
{"t":126,"o":1.1044,"h":1.1049,"l":1.1039,"c":1.1043},{"t":127,"o":1.1043,"h":1.1078,"l":1.1041,"c":1.1064},{"t":128,"o":1.1063,"h":1.1094,"l":1.1061,"c":1.1085},{"t":129,"o":1.1085,"h":1.1093,"l":1.1069,"c":1.1079},{"t":130,"o":1.1079,"h":1.1092,"l":1.1078,"c":1.1086},
{"t":131,"o":1.1082,"h":1.1121,"l":1.1081,"c":1.1120},{"t":132,"o":1.1119,"h":1.1123,"l":1.1110,"c":1.1112},{"t":133,"o":1.1112,"h":1.1165,"l":1.1108,"c":1.1122},{"t":134,"o":1.1122,"h":1.1138,"l":1.1107,"c":1.1126},{"t":135,"o":1.1124,"h":1.1148,"l":1.1118,"c":1.1131},
{"t":136,"o":1.1130,"h":1.1165,"l":1.1129,"c":1.1164},{"t":137,"o":1.1163,"h":1.1185,"l":1.1161,"c":1.1181},{"t":138,"o":1.1179,"h":1.1184,"l":1.1163,"c":1.1163},{"t":139,"o":1.1163,"h":1.1165,"l":1.1134,"c":1.1136},{"t":140,"o":1.1136,"h":1.1138,"l":1.1124,"c":1.1134},
{"t":141,"o":1.1134,"h":1.1142,"l":1.1124,"c":1.1139},{"t":142,"o":1.1139,"h":1.1148,"l":1.1126,"c":1.1144},{"t":143,"o":1.1144,"h":1.1146,"l":1.1131,"c":1.1133},{"t":144,"o":1.1134,"h":1.1138,"l":1.1122,"c":1.1134},{"t":145,"o":1.1142,"h":1.1144,"l":1.1134,"c":1.1136},
{"t":146,"o":1.1142,"h":1.1144,"l":1.1133,"c":1.1135},{"t":147,"o":1.1134,"h":1.1156,"l":1.1133,"c":1.1144},{"t":148,"o":1.1144,"h":1.1152,"l":1.1142,"c":1.1145},{"t":149,"o":1.1145,"h":1.1152,"l":1.1143,"c":1.1146},{"t":150,"o":1.1146,"h":1.1148,"l":1.1119,"c":1.1120},
{"t":151,"o":1.1127,"h":1.1132,"l":1.1108,"c":1.1110},{"t":152,"o":1.1120,"h":1.1130,"l":1.1099,"c":1.1110},{"t":153,"o":1.1127,"h":1.1136,"l":1.1111,"c":1.1112},{"t":154,"o":1.1114,"h":1.1134,"l":1.1107,"c":1.1114},{"t":155,"o":1.1113,"h":1.1130,"l":1.1111,"c":1.1118},
{"t":156,"o":1.1118,"h":1.1132,"l":1.1096,"c":1.1118},{"t":157,"o":1.1119,"h":1.1127,"l":1.1109,"c":1.1126},{"t":158,"o":1.1126,"h":1.1214,"l":1.1125,"c":1.1181},{"t":159,"o":1.1181,"h":1.1183,"l":1.1150,"c":1.1176},{"t":160,"o":1.1175,"h":1.1177,"l":1.1158,"c":1.1159},
{"t":161,"o":1.1159,"h":1.1187,"l":1.1159,"c":1.1185},{"t":162,"o":1.1185,"h":1.1195,"l":1.1173,"c":1.1175},{"t":163,"o":1.1176,"h":1.1184,"l":1.1171,"c":1.1181},{"t":164,"o":1.1181,"h":1.1183,"l":1.1167,"c":1.1169},{"t":165,"o":1.1169,"h":1.1185,"l":1.1166,"c":1.1170},
{"t":166,"o":1.1169,"h":1.1179,"l":1.1167,"c":1.1177},{"t":167,"o":1.1177,"h":1.1180,"l":1.1174,"c":1.1178},{"t":168,"o":1.1174,"h":1.1176,"l":1.1166,"c":1.1168},{"t":169,"o":1.1167,"h":1.1169,"l":1.1163,"c":1.1167},{"t":170,"o":1.1165,"h":1.1167,"l":1.1160,"c":1.1164},
{"t":171,"o":1.1162,"h":1.1166,"l":1.1155,"c":1.1161},{"t":172,"o":1.1160,"h":1.1163,"l":1.1155,"c":1.1157},{"t":173,"o":1.1158,"h":1.1160,"l":1.1148,"c":1.1158},{"t":174,"o":1.1154,"h":1.1160,"l":1.1144,"c":1.1159},{"t":175,"o":1.1159,"h":1.1187,"l":1.1157,"c":1.1165},
{"t":176,"o":1.1165,"h":1.1175,"l":1.1154,"c":1.1156},{"t":177,"o":1.1157,"h":1.1167,"l":1.1135,"c":1.1136},{"t":178,"o":1.1136,"h":1.1150,"l":1.1135,"c":1.1148},{"t":179,"o":1.1148,"h":1.1148,"l":1.1110,"c":1.1111},{"t":180,"o":1.1111,"h":1.1127,"l":1.1110,"c":1.1126},
{"t":181,"o":1.1126,"h":1.1127,"l":1.1094,"c":1.1119},{"t":182,"o":1.1119,"h":1.1142,"l":1.1101,"c":1.1140},{"t":183,"o":1.1140,"h":1.1141,"l":1.1121,"c":1.1129},{"t":184,"o":1.1129,"h":1.1132,"l":1.1119,"c":1.1123},{"t":185,"o":1.1123,"h":1.1133,"l":1.1121,"c":1.1132},
{"t":186,"o":1.1132,"h":1.1142,"l":1.1130,"c":1.1138},{"t":187,"o":1.1138,"h":1.1140,"l":1.1134,"c":1.1138},{"t":188,"o":1.1137,"h":1.1140,"l":1.1132,"c":1.1134},{"t":189,"o":1.1134,"h":1.1138,"l":1.1131,"c":1.1135},{"t":190,"o":1.1134,"h":1.1140,"l":1.1132,"c":1.1139},
{"t":191,"o":1.1138,"h":1.1142,"l":1.1133,"c":1.1139},{"t":192,"o":1.1137,"h":1.1140,"l":1.1135,"c":1.1138},{"t":193,"o":1.1137,"h":1.1143,"l":1.1136,"c":1.1141},{"t":194,"o":1.1142,"h":1.1144,"l":1.1136,"c":1.1139},{"t":195,"o":1.1138,"h":1.1140,"l":1.1134,"c":1.1138},
{"t":196,"o":1.1138,"h":1.1140,"l":1.1134,"c":1.1136},{"t":197,"o":1.1135,"h":1.1136,"l":1.1130,"c":1.1134},{"t":198,"o":1.1132,"h":1.1134,"l":1.1120,"c":1.1123},{"t":199,"o":1.1123,"h":1.1140,"l":1.1122,"c":1.1137},{"t":200,"o":1.1138,"h":1.1175,"l":1.1136,"c":1.1173},
{"t":201,"o":1.1173,"h":1.1175,"l":1.1159,"c":1.1171},{"t":202,"o":1.1171,"h":1.1184,"l":1.1159,"c":1.1182},{"t":203,"o":1.1182,"h":1.1201,"l":1.1179,"c":1.1189},{"t":204,"o":1.1189,"h":1.1195,"l":1.1177,"c":1.1186},{"t":205,"o":1.1186,"h":1.1201,"l":1.1177,"c":1.1190},
{"t":206,"o":1.1191,"h":1.1194,"l":1.1183,"c":1.1188},{"t":207,"o":1.1189,"h":1.1204,"l":1.1187,"c":1.1202},{"t":208,"o":1.1202,"h":1.1217,"l":1.1199,"c":1.1214},{"t":209,"o":1.1214,"h":1.1216,"l":1.1198,"c":1.1200},{"t":210,"o":1.1200,"h":1.1208,"l":1.1198,"c":1.1201},
{"t":211,"o":1.1199,"h":1.1245,"l":1.1197,"c":1.1229},{"t":212,"o":1.1229,"h":1.1245,"l":1.1225,"c":1.1238},{"t":213,"o":1.1238,"h":1.1241,"l":1.1227,"c":1.1230},{"t":214,"o":1.1230,"h":1.1232,"l":1.1221,"c":1.1223},{"t":215,"o":1.1223,"h":1.1225,"l":1.1211,"c":1.1221},
{"t":216,"o":1.1220,"h":1.1247,"l":1.1219,"c":1.1246},{"t":217,"o":1.1246,"h":1.1250,"l":1.1232,"c":1.1232},{"t":218,"o":1.1233,"h":1.1236,"l":1.1225,"c":1.1233},{"t":219,"o":1.1234,"h":1.1239,"l":1.1227,"c":1.1233},{"t":220,"o":1.1230,"h":1.1233,"l":1.1225,"c":1.1228},
{"t":221,"o":1.1228,"h":1.1238,"l":1.1219,"c":1.1227},{"t":222,"o":1.1228,"h":1.1239,"l":1.1218,"c":1.1236},{"t":223,"o":1.1234,"h":1.1273,"l":1.1233,"c":1.1272},{"t":224,"o":1.1271,"h":1.1295,"l":1.1270,"c":1.1295},{"t":225,"o":1.1294,"h":1.1318,"l":1.1292,"c":1.1316},
{"t":226,"o":1.1317,"h":1.1341,"l":1.1316,"c":1.1333},{"t":227,"o":1.1333,"h":1.1334,"l":1.1306,"c":1.1316},{"t":228,"o":1.1316,"h":1.1329,"l":1.1306,"c":1.1323},{"t":229,"o":1.1322,"h":1.1356,"l":1.1316,"c":1.1350},{"t":230,"o":1.1350,"h":1.1356,"l":1.1296,"c":1.1310},
{"t":231,"o":1.1320,"h":1.1331,"l":1.1297,"c":1.1311},{"t":232,"o":1.1320,"h":1.1330,"l":1.1303,"c":1.1304},{"t":233,"o":1.1306,"h":1.1307,"l":1.1288,"c":1.1298},{"t":234,"o":1.1298,"h":1.1319,"l":1.1295,"c":1.1317},{"t":235,"o":1.1318,"h":1.1320,"l":1.1297,"c":1.1299},
{"t":236,"o":1.1307,"h":1.1308,"l":1.1285,"c":1.1287},{"t":237,"o":1.1354,"h":1.1358,"l":1.1336,"c":1.1355},{"t":238,"o":1.1354,"h":1.1398,"l":1.1349,"c":1.1388},{"t":239,"o":1.1388,"h":1.1398,"l":1.1352,"c":1.1389},{"t":240,"o":1.1388,"h":1.1389,"l":1.1359,"c":1.1360},
{"t":241,"o":1.1360,"h":1.1495,"l":1.1356,"c":1.1428},{"t":242,"o":1.1429,"h":1.1462,"l":1.1388,"c":1.1398},{"t":243,"o":1.1398,"h":1.1420,"l":1.1388,"c":1.1417},{"t":244,"o":1.1417,"h":1.1423,"l":1.1399,"c":1.1402},{"t":245,"o":1.1402,"h":1.1427,"l":1.1382,"c":1.1383},
{"t":246,"o":1.1383,"h":1.1402,"l":1.1382,"c":1.1401},{"t":247,"o":1.1402,"h":1.1476,"l":1.1401,"c":1.1440},{"t":248,"o":1.1439,"h":1.1441,"l":1.1401,"c":1.1402},{"t":249,"o":1.1404,"h":1.1406,"l":1.1365,"c":1.1392},{"t":250,"o":1.1392,"h":1.1439,"l":1.1390,"c":1.1425},
{"t":251,"o":1.1425,"h":1.1429,"l":1.1400,"c":1.1426},{"t":252,"o":1.1426,"h":1.1438,"l":1.1400,"c":1.1437},{"t":253,"o":1.1437,"h":1.1486,"l":1.1376,"c":1.1410},{"t":254,"o":1.1404,"h":1.1447,"l":1.1403,"c":1.1435},{"t":255,"o":1.1435,"h":1.1436,"l":1.1408,"c":1.1410},
{"t":256,"o":1.1421,"h":1.1472,"l":1.1421,"c":1.1471},{"t":257,"o":1.1471,"h":1.1479,"l":1.1461,"c":1.1462},{"t":258,"o":1.1463,"h":1.1475,"l":1.1460,"c":1.1464},{"t":259,"o":1.1461,"h":1.1467,"l":1.1449,"c":1.1451},{"t":260,"o":1.1453,"h":1.1455,"l":1.1437,"c":1.1438},
{"t":261,"o":1.1438,"h":1.1461,"l":1.1437,"c":1.1452},{"t":262,"o":1.1452,"h":1.1457,"l":1.1437,"c":1.1439},{"t":263,"o":1.1439,"h":1.1441,"l":1.1401,"c":1.1402},{"t":264,"o":1.1400,"h":1.1401,"l":1.1378,"c":1.1385},{"t":265,"o":1.1385,"h":1.1415,"l":1.1374,"c":1.1406},
{"t":266,"o":1.1407,"h":1.1414,"l":1.1390,"c":1.1408},{"t":267,"o":1.1410,"h":1.1415,"l":1.1394,"c":1.1395},{"t":268,"o":1.1397,"h":1.1399,"l":1.1376,"c":1.1382},{"t":269,"o":1.1376,"h":1.1377,"l":1.1333,"c":1.1341},{"t":270,"o":1.1341,"h":1.1374,"l":1.1338,"c":1.1342},
{"t":271,"o":1.1341,"h":1.1386,"l":1.1339,"c":1.1383},{"t":272,"o":1.1383,"h":1.1402,"l":1.1360,"c":1.1362},{"t":273,"o":1.1361,"h":1.1366,"l":1.1346,"c":1.1352},{"t":274,"o":1.1352,"h":1.1358,"l":1.1338,"c":1.1353},{"t":275,"o":1.1352,"h":1.1378,"l":1.1346,"c":1.1361},
{"t":276,"o":1.1360,"h":1.1381,"l":1.1359,"c":1.1380},{"t":277,"o":1.1380,"h":1.1394,"l":1.1370,"c":1.1373},{"t":278,"o":1.1372,"h":1.1378,"l":1.1358,"c":1.1371},{"t":279,"o":1.1372,"h":1.1386,"l":1.1341,"c":1.1343},{"t":280,"o":1.1343,"h":1.1344,"l":1.1297,"c":1.1306},
{"t":281,"o":1.1306,"h":1.1319,"l":1.1304,"c":1.1318},{"t":282,"o":1.1316,"h":1.1317,"l":1.1287,"c":1.1295},{"t":283,"o":1.1295,"h":1.1304,"l":1.1281,"c":1.1302},{"t":284,"o":1.1302,"h":1.1303,"l":1.1275,"c":1.1279},{"t":285,"o":1.1280,"h":1.1293,"l":1.1276,"c":1.1292},
{"t":286,"o":1.1291,"h":1.1311,"l":1.1288,"c":1.1310},{"t":287,"o":1.1310,"h":1.1324,"l":1.1307,"c":1.1315},{"t":288,"o":1.1314,"h":1.1325,"l":1.1310,"c":1.1320},{"t":289,"o":1.1322,"h":1.1330,"l":1.1310,"c":1.1321},{"t":290,"o":1.1323,"h":1.1328,"l":1.1316,"c":1.1322},
{"t":291,"o":1.1324,"h":1.1333,"l":1.1320,"c":1.1329},{"t":292,"o":1.1329,"h":1.1339,"l":1.1322,"c":1.1338},{"t":293,"o":1.1338,"h":1.1353,"l":1.1328,"c":1.1351},{"t":294,"o":1.1350,"h":1.1365,"l":1.1344,"c":1.1364},{"t":295,"o":1.1364,"h":1.1368,"l":1.1327,"c":1.1328},
{"t":296,"o":1.1329,"h":1.1330,"l":1.1312,"c":1.1314},{"t":297,"o":1.1314,"h":1.1315,"l":1.1302,"c":1.1304},{"t":298,"o":1.1304,"h":1.1334,"l":1.1302,"c":1.1328},{"t":299,"o":1.1327,"h":1.1332,"l":1.1322,"c":1.1328},{"t":300,"o":1.1328,"h":1.1342,"l":1.1324,"c":1.1339},
{"t":301,"o":1.1340,"h":1.1352,"l":1.1328,"c":1.1346},{"t":302,"o":1.1346,"h":1.1347,"l":1.1306,"c":1.1308},{"t":303,"o":1.1308,"h":1.1309,"l":1.1259,"c":1.1280},{"t":304,"o":1.1280,"h":1.1282,"l":1.1265,"c":1.1267},{"t":305,"o":1.1267,"h":1.1288,"l":1.1267,"c":1.1284},
{"t":306,"o":1.1285,"h":1.1287,"l":1.1269,"c":1.1284},{"t":307,"o":1.1282,"h":1.1283,"l":1.1271,"c":1.1274},{"t":308,"o":1.1274,"h":1.1277,"l":1.1263,"c":1.1268},{"t":309,"o":1.1268,"h":1.1270,"l":1.1251,"c":1.1262},{"t":310,"o":1.1261,"h":1.1265,"l":1.1258,"c":1.1260},
{"t":311,"o":1.1260,"h":1.1267,"l":1.1251,"c":1.1261},{"t":312,"o":1.1262,"h":1.1275,"l":1.1260,"c":1.1271},{"t":313,"o":1.1271,"h":1.1334,"l":1.1270,"c":1.1319},{"t":314,"o":1.1320,"h":1.1324,"l":1.1291,"c":1.1321},{"t":315,"o":1.1321,"h":1.1322,"l":1.1291,"c":1.1312},
{"t":316,"o":1.1312,"h":1.1315,"l":1.1287,"c":1.1296},{"t":317,"o":1.1296,"h":1.1300,"l":1.1290,"c":1.1297},{"t":318,"o":1.1295,"h":1.1298,"l":1.1290,"c":1.1294},{"t":319,"o":1.1294,"h":1.1315,"l":1.1280,"c":1.1312},{"t":320,"o":1.1313,"h":1.1314,"l":1.1267,"c":1.1269},
{"t":321,"o":1.1267,"h":1.1279,"l":1.1243,"c":1.1244},{"t":322,"o":1.1245,"h":1.1247,"l":1.1228,"c":1.1234},{"t":323,"o":1.1236,"h":1.1243,"l":1.1211,"c":1.1237},{"t":324,"o":1.1239,"h":1.1302,"l":1.1198,"c":1.1215},{"t":325,"o":1.1215,"h":1.1266,"l":1.1213,"c":1.1240},
{"t":326,"o":1.1240,"h":1.1241,"l":1.1132,"c":1.1146},{"t":327,"o":1.1146,"h":1.1148,"l":1.1056,"c":1.1081},{"t":328,"o":1.1081,"h":1.1148,"l":1.1056,"c":1.1146},{"t":329,"o":1.1145,"h":1.1201,"l":1.1144,"c":1.1185},{"t":330,"o":1.1185,"h":1.1216,"l":1.1176,"c":1.1177},
{"t":331,"o":1.1178,"h":1.1201,"l":1.1167,"c":1.1181},{"t":332,"o":1.1182,"h":1.1227,"l":1.1160,"c":1.1183},{"t":333,"o":1.1185,"h":1.1195,"l":1.1165,"c":1.1167},{"t":334,"o":1.1167,"h":1.1185,"l":1.1163,"c":1.1176},{"t":335,"o":1.1176,"h":1.1188,"l":1.1174,"c":1.1184},
{"t":336,"o":1.1184,"h":1.1186,"l":1.1152,"c":1.1166},{"t":337,"o":1.1166,"h":1.1189,"l":1.1165,"c":1.1187},{"t":338,"o":1.1187,"h":1.1209,"l":1.1185,"c":1.1207},{"t":339,"o":1.1206,"h":1.1219,"l":1.1193,"c":1.1214},{"t":340,"o":1.1214,"h":1.1222,"l":1.1204,"c":1.1220},
{"t":341,"o":1.1220,"h":1.1221,"l":1.1202,"c":1.1204},{"t":342,"o":1.1203,"h":1.1205,"l":1.1197,"c":1.1199},{"t":343,"o":1.1199,"h":1.1201,"l":1.1161,"c":1.1182},{"t":344,"o":1.1182,"h":1.1214,"l":1.1181,"c":1.1208},{"t":345,"o":1.1208,"h":1.1209,"l":1.1163,"c":1.1165},
{"t":346,"o":1.1165,"h":1.1175,"l":1.1158,"c":1.1159},{"t":347,"o":1.1159,"h":1.1162,"l":1.1140,"c":1.1156},{"t":348,"o":1.1156,"h":1.1187,"l":1.1109,"c":1.1110},{"t":349,"o":1.1110,"h":1.1127,"l":1.1108,"c":1.1125},{"t":350,"o":1.1125,"h":1.1135,"l":1.1098,"c":1.1108},
{"t":351,"o":1.1108,"h":1.1109,"l":1.1068,"c":1.1070},{"t":352,"o":1.1070,"h":1.1102,"l":1.1056,"c":1.1080},{"t":353,"o":1.1081,"h":1.1095,"l":1.1064,"c":1.1080},{"t":354,"o":1.1080,"h":1.1102,"l":1.1057,"c":1.1068},{"t":355,"o":1.1068,"h":1.1116,"l":1.1058,"c":1.1113},
{"t":356,"o":1.1113,"h":1.1116,"l":1.1097,"c":1.1104},{"t":357,"o":1.1065,"h":1.1199,"l":1.1064,"c":1.1189},{"t":358,"o":1.1189,"h":1.1197,"l":1.1155,"c":1.1156},{"t":359,"o":1.1157,"h":1.1193,"l":1.1140,"c":1.1156},{"t":360,"o":1.1155,"h":1.1169,"l":1.1117,"c":1.1118},
{"t":361,"o":1.1118,"h":1.1119,"l":1.1085,"c":1.1101},{"t":362,"o":1.1102,"h":1.1116,"l":1.1088,"c":1.1102},{"t":363,"o":1.1103,"h":1.1126,"l":1.1091,"c":1.1125},{"t":364,"o":1.1125,"h":1.1135,"l":1.1109,"c":1.1134},{"t":365,"o":1.1134,"h":1.1135,"l":1.1109,"c":1.1119},
{"t":366,"o":1.1119,"h":1.1151,"l":1.1112,"c":1.1140},{"t":367,"o":1.1140,"h":1.1183,"l":1.1132,"c":1.1177},{"t":368,"o":1.1176,"h":1.1230,"l":1.1175,"c":1.1226},{"t":369,"o":1.1226,"h":1.1237,"l":1.1191,"c":1.1192},{"t":370,"o":1.1193,"h":1.1194,"l":1.1144,"c":1.1167},
{"t":371,"o":1.1166,"h":1.1187,"l":1.1155,"c":1.1185},{"t":372,"o":1.1186,"h":1.1201,"l":1.1152,"c":1.1167},{"t":373,"o":1.1167,"h":1.1168,"l":1.1110,"c":1.1150},{"t":374,"o":1.1150,"h":1.1160,"l":1.1101,"c":1.1102},{"t":375,"o":1.1102,"h":1.1138,"l":1.1095,"c":1.1136},
{"t":376,"o":1.1138,"h":1.1166,"l":1.1136,"c":1.1163},{"t":377,"o":1.1160,"h":1.1179,"l":1.1152,"c":1.1161},{"t":378,"o":1.1160,"h":1.1179,"l":1.1152,"c":1.1169},{"t":379,"o":1.1171,"h":1.1179,"l":1.1152,"c":1.1176},{"t":380,"o":1.1176,"h":1.1187,"l":1.1169,"c":1.1180},
{"t":381,"o":1.1180,"h":1.1181,"l":1.1171,"c":1.1179},{"t":382,"o":1.1179,"h":1.1180,"l":1.1166,"c":1.1168},{"t":383,"o":1.1168,"h":1.1171,"l":1.1161,"c":1.1164},{"t":384,"o":1.1164,"h":1.1172,"l":1.1160,"c":1.1171},{"t":385,"o":1.1171,"h":1.1172,"l":1.1168,"c":1.1171},
{"t":386,"o":1.1172,"h":1.1188,"l":1.1163,"c":1.1173},{"t":387,"o":1.1174,"h":1.1187,"l":1.1171,"c":1.1179},{"t":388,"o":1.1179,"h":1.1185,"l":1.1173,"c":1.1178},{"t":389,"o":1.1178,"h":1.1181,"l":1.1162,"c":1.1169},{"t":390,"o":1.1169,"h":1.1171,"l":1.1160,"c":1.1161},
{"t":391,"o":1.1161,"h":1.1162,"l":1.1127,"c":1.1138},{"t":392,"o":1.1138,"h":1.1146,"l":1.1110,"c":1.1111},{"t":393,"o":1.1111,"h":1.1112,"l":1.1091,"c":1.1095},{"t":394,"o":1.1094,"h":1.1095,"l":1.1027,"c":1.1028},{"t":395,"o":1.1028,"h":1.1039,"l":1.1000,"c":1.1013},
{"t":396,"o":1.1013,"h":1.1014,"l":1.0973,"c":1.0989},{"t":397,"o":1.0989,"h":1.1005,"l":1.0988,"c":1.0996},{"t":398,"o":1.0996,"h":1.1001,"l":1.0955,"c":1.0971},{"t":399,"o":1.0971,"h":1.0991,"l":1.0957,"c":1.0972},{"t":400,"o":1.0971,"h":1.0981,"l":1.0961,"c":1.0966},
{"t":401,"o":1.0966,"h":1.0989,"l":1.0957,"c":1.0988},{"t":402,"o":1.0987,"h":1.1003,"l":1.0977,"c":1.0998},{"t":403,"o":1.0999,"h":1.1013,"l":1.0987,"c":1.1000},{"t":404,"o":1.1001,"h":1.1005,"l":1.0988,"c":1.0996},{"t":405,"o":1.0996,"h":1.1011,"l":1.0993,"c":1.1006},
{"t":406,"o":1.1006,"h":1.1016,"l":1.1003,"c":1.1015},{"t":407,"o":1.1015,"h":1.1024,"l":1.1009,"c":1.1016},{"t":408,"o":1.1016,"h":1.1017,"l":1.0991,"c":1.0993},{"t":409,"o":1.0992,"h":1.1005,"l":1.0984,"c":1.1001},{"t":410,"o":1.1001,"h":1.1019,"l":1.1000,"c":1.1009},
{"t":411,"o":1.1011,"h":1.1028,"l":1.1009,"c":1.1026},{"t":412,"o":1.1028,"h":1.1034,"l":1.1015,"c":1.1032},{"t":413,"o":1.1031,"h":1.1045,"l":1.1029,"c":1.1039},{"t":414,"o":1.1039,"h":1.1040,"l":1.1002,"c":1.1003},{"t":415,"o":1.1003,"h":1.1004,"l":1.0966,"c":1.0967},
{"t":416,"o":1.0967,"h":1.0975,"l":1.0955,"c":1.0972},{"t":417,"o":1.0972,"h":1.1001,"l":1.0971,"c":1.0995},{"t":418,"o":1.0999,"h":1.1017,"l":1.0993,"c":1.1000},{"t":419,"o":1.0999,"h":1.1006,"l":1.0975,"c":1.0977},{"t":420,"o":1.0977,"h":1.0978,"l":1.0929,"c":1.0930},
{"t":421,"o":1.0930,"h":1.0937,"l":1.0894,"c":1.0908},{"t":422,"o":1.0908,"h":1.0910,"l":1.0866,"c":1.0867},{"t":423,"o":1.0867,"h":1.0878,"l":1.0828,"c":1.0832},{"t":424,"o":1.0833,"h":1.0834,"l":1.0807,"c":1.0808},{"t":425,"o":1.0808,"h":1.0850,"l":1.0800,"c":1.0848},
{"t":426,"o":1.0847,"h":1.0873,"l":1.0819,"c":1.0872},{"t":427,"o":1.0872,"h":1.0899,"l":1.0852,"c":1.0899},{"t":428,"o":1.0898,"h":1.0909,"l":1.0886,"c":1.0907},{"t":429,"o":1.0909,"h":1.0915,"l":1.0907,"c":1.0910},{"t":430,"o":1.0911,"h":1.0933,"l":1.0909,"c":1.0931},
{"t":431,"o":1.0932,"h":1.0981,"l":1.0931,"c":1.0945},{"t":432,"o":1.0944,"h":1.0949,"l":1.0898,"c":1.0899},{"t":433,"o":1.0900,"h":1.0921,"l":1.0885,"c":1.0909},{"t":434,"o":1.0909,"h":1.0917,"l":1.0879,"c":1.0880},{"t":435,"o":1.0898,"h":1.0913,"l":1.0879,"c":1.0880},
{"t":436,"o":1.0897,"h":1.0908,"l":1.0894,"c":1.0898},{"t":437,"o":1.0896,"h":1.0909,"l":1.0894,"c":1.0900},{"t":438,"o":1.0901,"h":1.0947,"l":1.0900,"c":1.0925},{"t":439,"o":1.0925,"h":1.0935,"l":1.0845,"c":1.0846},{"t":440,"o":1.0846,"h":1.0848,"l":1.0823,"c":1.0836},
{"t":441,"o":1.0836,"h":1.0838,"l":1.0812,"c":1.0824},{"t":442,"o":1.0824,"h":1.0826,"l":1.0781,"c":1.0783},{"t":443,"o":1.0783,"h":1.0804,"l":1.0731,"c":1.0748},{"t":444,"o":1.0749,"h":1.0839,"l":1.0725,"c":1.0798},{"t":445,"o":1.0798,"h":1.0834,"l":1.0796,"c":1.0803},
{"t":446,"o":1.0802,"h":1.0804,"l":1.0794,"c":1.0794},{"t":447,"o":1.0794,"h":1.0795,"l":1.0698,"c":1.0699},{"t":448,"o":1.0699,"h":1.0715,"l":1.0660,"c":1.0662},{"t":449,"o":1.0662,"h":1.0705,"l":1.0654,"c":1.0683},{"t":450,"o":1.0683,"h":1.0685,"l":1.0656,"c":1.0667},
{"t":451,"o":1.0680,"h":1.0681,"l":1.0665,"c":1.0667},{"t":452,"o":1.0679,"h":1.0706,"l":1.0677,"c":1.0691},{"t":453,"o":1.0691,"h":1.0692,"l":1.0656,"c":1.0658},{"t":454,"o":1.0664,"h":1.0671,"l":1.0656,"c":1.0663},{"t":455,"o":1.0664,"h":1.0665,"l":1.0653,"c":1.0655},
{"t":456,"o":1.0669,"h":1.0672,"l":1.0651,"c":1.0656},{"t":457,"o":1.0680,"h":1.0744,"l":1.0677,"c":1.0719},{"t":458,"o":1.0718,"h":1.0750,"l":1.0695,"c":1.0734},{"t":459,"o":1.0733,"h":1.0751,"l":1.0711,"c":1.0735},{"t":460,"o":1.0734,"h":1.0764,"l":1.0733,"c":1.0764},
{"t":461,"o":1.0765,"h":1.0769,"l":1.0741,"c":1.0752},{"t":462,"o":1.0751,"h":1.0779,"l":1.0741,"c":1.0759},{"t":463,"o":1.0759,"h":1.0831,"l":1.0758,"c":1.0814},{"t":464,"o":1.0814,"h":1.0815,"l":1.0771,"c":1.0787},{"t":465,"o":1.0787,"h":1.0790,"l":1.0714,"c":1.0720},
{"t":466,"o":1.0736,"h":1.0758,"l":1.0705,"c":1.0720},{"t":467,"o":1.0736,"h":1.0740,"l":1.0695,"c":1.0710},{"t":468,"o":1.0711,"h":1.0758,"l":1.0701,"c":1.0710},{"t":469,"o":1.0709,"h":1.0715,"l":1.0691,"c":1.0693},{"t":470,"o":1.0692,"h":1.0749,"l":1.0689,"c":1.0720},
{"t":471,"o":1.0720,"h":1.0749,"l":1.0679,"c":1.0685},{"t":472,"o":1.0685,"h":1.0689,"l":1.0678,"c":1.0680}
]},
"layer":[
{"data":{"name":"days"},"mark":{"type":"rule","stroke":"#e4e6eb","strokeWidth":1,"strokeDash":[5,4]},"encoding":{"x":{"field":"t","type":"quantitative","axis":null,"scale":{"domain":[-0.43,472.27],"nice":false,"zero":false,"padding":0}}}},
{"data":{"name":"short"},"mark":{"type":"area","interpolate":"monotone","fill":"#e8e8e8"},"encoding":{"x":{"field":"t","type":"quantitative","axis":null},"y":{"field":"a","type":"quantitative","scale":{"domain":[1.0569,1.16],"nice":false,"zero":false},"axis":{"orient":"right","title":null,"values":[1.06,1.065,1.07,1.075,1.08,1.085,1.09,1.095,1.1,1.105,1.11,1.115,1.12,1.125,1.13,1.135,1.14,1.145,1.15,1.155],"format":".5f","grid":false,"domain":true,"domainColor":"#131722","domainWidth":1.5,"ticks":true,"tickColor":"#131722","tickSize":4,"tickWidth":1,"labelFont":"Noto Sans","labelFontSize":13,"labelColor":"#131722","labelPadding":6,"labelOverlap":false}},"y2":{"field":"f"},"detail":{"field":"s"}}},
{"data":{"name":"short"},"transform":[{"fold":["a","b","c","d","e","f"],"as":["line","p"]}],"mark":{"type":"line","interpolate":"monotone","strokeWidth":1.3,"opacity":0.7},"encoding":{"x":{"field":"t","type":"quantitative","axis":null},"y":{"field":"p","type":"quantitative"},"color":{"field":"ph","type":"nominal","legend":null,"scale":{"domain":["cyan","gray","orange"],"range":["#5fe6f2","#9a9a9a","#f5a55a"]}},"detail":[{"field":"line"},{"field":"s"}]}},
{"data":{"name":"long"},"mark":{"type":"area","interpolate":"monotone","fill":"#e4e4e4"},"encoding":{"x":{"field":"t","type":"quantitative","axis":null},"y":{"field":"a","type":"quantitative"},"y2":{"field":"f"},"detail":{"field":"s"}}},
{"data":{"name":"long"},"transform":[{"fold":["a","b","c","d","e","f"],"as":["line","p"]}],"mark":{"type":"line","interpolate":"monotone","strokeWidth":3.4,"opacity":0.62},"encoding":{"x":{"field":"t","type":"quantitative","axis":null},"y":{"field":"p","type":"quantitative"},"color":{"condition":[{"test":"datum.ph==='green'","value":"#5cee5c"},{"test":"datum.ph==='red'","value":"#f2424e"}],"value":"#8f8f8f"},"detail":[{"field":"line"},{"field":"s"}]}},
{"data":{"name":"ohlc"},"mark":{"type":"rule","stroke":"#2e2e2e","strokeWidth":1.1},"encoding":{"x":{"field":"t","type":"quantitative","axis":null},"y":{"field":"l","type":"quantitative"},"y2":{"field":"h"}}},
{"data":{"name":"ohlc"},"mark":{"type":"bar","orient":"vertical","size":2.4,"stroke":"#2a2a2a","strokeWidth":1},"encoding":{"x":{"field":"t","type":"quantitative","axis":null,"scale":{"padding":0}},"y":{"field":"o","type":"quantitative"},"y2":{"field":"c"},"fill":{"condition":{"test":"datum.c>=datum.o","value":"#ffffff"},"value":"#222222"}}},
{"data":{"values":[{"t0":455,"t1":490.6,"p0":1.06536,"p1":1.06798}]},"mark":{"type":"rect","fill":"#9598a1"},"encoding":{"x":{"field":"t0","type":"quantitative","axis":null},"x2":{"field":"t1"},"y":{"field":"p0","type":"quantitative"},"y2":{"field":"p1"}}},
{"data":{"values":[{"t":472.27,"p0":1.06536,"p1":1.06798}]},"mark":{"type":"rule","stroke":"#ffffff","strokeWidth":1.2},"encoding":{"x":{"field":"t","type":"quantitative","axis":null},"y":{"field":"p0","type":"quantitative"},"y2":{"field":"p1"}}},
{"data":{"values":[{"t":457.4,"p":1.06667,"label":"EURUSD"},{"t":475.2,"p":1.06667,"label":"1.06666"}]},"mark":{"type":"text","align":"left","baseline":"middle","font":"Noto Sans","fontSize":13,"fill":"#ffffff"},"encoding":{"x":{"field":"t","type":"quantitative","axis":null},"y":{"field":"p","type":"quantitative"},"text":{"field":"label"}}},
{"data":{"values":[{"t":463.9,"p":1.06238}]},"mark":{"type":"point","filled":true,"shape":"circle","size":640,"fill":"#ffffff","stroke":"#eeeeee","strokeWidth":1,"opacity":1},"encoding":{"x":{"field":"t","type":"quantitative","axis":null},"y":{"field":"p","type":"quantitative"}}},
{"data":{"values":[{"t":463.9,"p":1.06243,"label":"»"}]},"mark":{"type":"text","align":"center","baseline":"middle","font":"Noto Sans","fontSize":21,"fill":"#50535e"},"encoding":{"x":{"field":"t","type":"quantitative","axis":null},"y":{"field":"p","type":"quantitative"},"text":{"field":"label"}}},
{"data":{"values":[{"t":3.35,"p":1.15786,"label":"Euro / U.S. Dollar"},{"t":40.9,"p":1.15786,"label":"60"},{"t":48.8,"p":1.15786,"label":"FXCM"}]},"mark":{"type":"text","align":"left","baseline":"middle","font":"DejaVu Sans","fontSize":14,"fill":"#131722"},"encoding":{"x":{"field":"t","type":"quantitative","axis":null},"y":{"field":"p","type":"quantitative"},"text":{"field":"label"}}},
{"data":{"values":[{"t":39.3,"p":1.15786},{"t":46.9,"p":1.15786}]},"mark":{"type":"point","filled":true,"shape":"circle","size":5,"fill":"#c8cad0","opacity":1},"encoding":{"x":{"field":"t","type":"quantitative","axis":null},"y":{"field":"p","type":"quantitative"}}},
{"data":{"values":[{"t0":3.08,"t1":8.49,"p0":1.15381,"p1":1.15619}]},"mark":{"type":"rect","fill":"#ffffff","stroke":"#d1d4dc","strokeWidth":1,"cornerRadius":3},"encoding":{"x":{"field":"t0","type":"quantitative","axis":null},"x2":{"field":"t1"},"y":{"field":"p0","type":"quantitative"},"y2":{"field":"p1"}}},
{"data":{"values":[{"t":5.78,"p":1.155}]},"mark":{"type":"point","filled":false,"shape":"M-1,-0.5L0,0.5L1,-0.5","size":36,"stroke":"#131722","strokeWidth":1.3,"opacity":1},"encoding":{"x":{"field":"t","type":"quantitative","axis":null},"y":{"field":"p","type":"quantitative"}}},
{"data":{"values":[{"t":10.65,"p":1.155,"label":"CM_Guppy_EMA's"}]},"mark":{"type":"text","align":"left","baseline":"middle","font":"Noto Sans","fontSize":12,"fill":"#131722"},"encoding":{"x":{"field":"t","type":"quantitative","axis":null},"y":{"field":"p","type":"quantitative"},"text":{"field":"label"}}},
{"data":{"values":[{"t":10.65,"p":1.15214,"label":"4SMMA"}]},"mark":{"type":"text","align":"left","baseline":"middle","font":"Noto Sans","fontSize":12,"fill":"#b2b5be"},"encoding":{"x":{"field":"t","type":"quantitative","axis":null},"y":{"field":"p","type":"quantitative"},"text":{"field":"label"}}},
{"data":{"values":[{"t":26.6,"p":1.15214}]},"mark":{"type":"point","filled":false,"shape":"M-1,0C-0.5,-0.7 0.5,-0.7 1,0C0.5,0.7 -0.5,0.7 -1,0ZM-0.8,0.8L0.8,-0.8M-0.3,0A0.3,0.3 0 1 0 0.3,0A0.3,0.3 0 1 0 -0.3,0Z","size":200,"stroke":"#50535e","strokeWidth":1,"opacity":1},"encoding":{"x":{"field":"t","type":"quantitative","axis":null},"y":{"field":"p","type":"quantitative"}}},
{"data":{"values":[{"t":443.8,"p":1.15774}]},"mark":{"type":"point","filled":false,"shape":"circle","size":150,"stroke":"#ff9850","strokeWidth":1.5,"opacity":1},"encoding":{"x":{"field":"t","type":"quantitative","axis":null},"y":{"field":"p","type":"quantitative"}}},
{"data":{"values":[{"t":443.8,"p":1.15774,"label":"!"}]},"mark":{"type":"text","align":"center","baseline":"middle","font":"Noto Sans","fontSize":11,"fontWeight":"bold","fill":"#ff9850"},"encoding":{"x":{"field":"t","type":"quantitative","axis":null},"y":{"field":"p","type":"quantitative"},"text":{"field":"label"}}},
{"data":{"values":[{"t":448.2,"p":1.15774}]},"mark":{"type":"point","filled":true,"shape":"circle","size":28,"fill":"#9598a1","opacity":1},"encoding":{"x":{"field":"t","type":"quantitative","axis":null},"y":{"field":"p","type":"quantitative"}}},
{"data":{"values":[{"t":450.1,"p":1.15774,"label":"Market Closed"}]},"mark":{"type":"text","align":"left","baseline":"middle","font":"Noto Sans","fontSize":11.5,"fill":"#a3a6af"},"encoding":{"x":{"field":"t","type":"quantitative","axis":null},"y":{"field":"p","type":"quantitative"},"text":{"field":"label"}}},
{"data":{"values":[{"t0":-0.43,"t1":0.65,"p0":1.0569,"p1":1.16}]},"mark":{"type":"rect","fill":"#e0e3eb"},"encoding":{"x":{"field":"t0","type":"quantitative","axis":null},"x2":{"field":"t1"},"y":{"field":"p0","type":"quantitative"},"y2":{"field":"p1"}}},
{"data":{"values":[{"t0":-0.43,"t1":490.6,"p0":1.15988,"p1":1.16}]},"mark":{"type":"rect","fill":"#e0e3eb"},"encoding":{"x":{"field":"t0","type":"quantitative","axis":null},"x2":{"field":"t1"},"y":{"field":"p0","type":"quantitative"},"y2":{"field":"p1"}}}
]}
